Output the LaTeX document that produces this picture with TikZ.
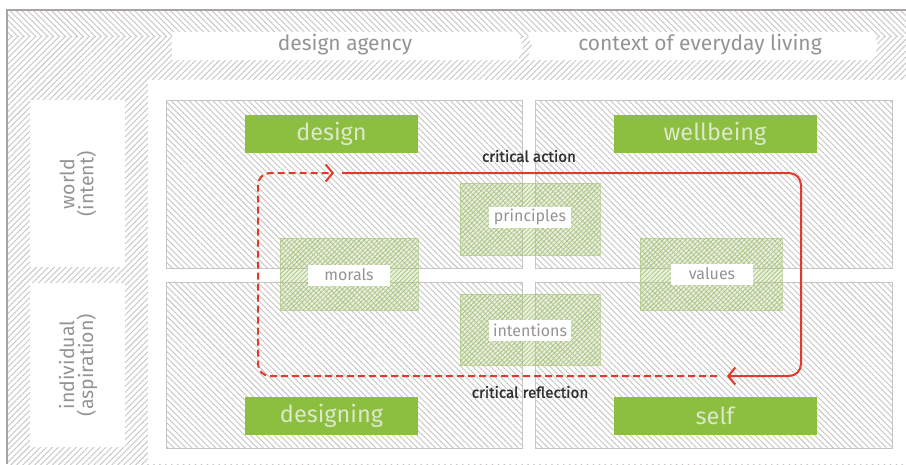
\documentclass[tikz,border=0pt]{standalone}
\usepackage{fontspec}
\setmainfont{Fira Sans}
\usetikzlibrary{patterns.meta,arrows.meta}
\definecolor{hatch}{HTML}{C8C4C4}
\definecolor{frameline}{HTML}{A8A4A4}
\definecolor{leaf}{HTML}{8CBE3F}
\definecolor{leaftext}{HTML}{DCE8CB}
\definecolor{mesh}{HTML}{A9C77A}
\definecolor{loopred}{HTML}{E2392B}
\definecolor{labelgray}{HTML}{979393}
\definecolor{darktext}{HTML}{303030}
\begin{document}
\begin{tikzpicture}[x=1pt,y=-1pt,
  hatchNE/.style={pattern={Lines[angle=45,distance=4.2pt,line width=0.9pt]},pattern color=hatch},
  hatchNW/.style={pattern={Lines[angle=-45,distance=4.2pt,line width=0.9pt]},pattern color=hatch},
  meshNE/.style={pattern={Lines[angle=45,distance=3.2pt,line width=0.8pt]},pattern color=mesh},
  quad/.style={hatchNW,draw=hatch,line width=0.8pt},
  greenbox/.style={fill=leaf,text=leaftext,minimum width=173pt,minimum height=38pt,inner sep=0pt,font=\fontsize{23.5}{26}\selectfont},
  tag/.style={fill=white,text=labelgray,inner sep=0pt,minimum width=82pt,minimum height=21pt,font=\fontsize{16}{18}\selectfont},
  headtext/.style={text=labelgray,font=\fontsize{21}{23}\selectfont},
  sidetext/.style={text=labelgray,rotate=90,align=center,font=\fontsize{19.5}{19}\selectfont},
  crit/.style={text=darktext,font=\fontsize{15.2}{17}\selectfont\addfontfeature{FakeBold=1.3}},
  loopline/.style={draw=loopred,line width=2pt,rounded corners=12pt},
  looptip/.style={-{Straight Barb[length=7pt,width=17pt,line width=2pt]}}
]
\useasboundingbox (0,0) rectangle (906,464);
\fill[white] (0,0) rectangle (906,464);
% outer hatched frame
\path[hatchNE] (7,10) rectangle (906,464);
\fill[white] (7,10) rectangle (906,36);
\path[hatchNW] (7,10) rectangle (906,36);
\draw[frameline,line width=1.5pt] (906,10) -- (7,10) -- (7,464);
% header bands
\fill[white] (172,32) -- (518,32) -- (523,46) -- (518,60) -- (172,60) -- cycle;
\fill[white] (527,32) -- (873,32) -- (878,46) -- (873,60) -- (527,60) -- (532,46) -- cycle;
\node[headtext] (hdA) at (345,45) {design agency};
\node[headtext] (hdB) at (700,45) {context of everyday living};
% side labels
\fill[white] (30,100) rectangle (125,267);
\fill[white] (30,283) rectangle (125,447);
\node[sidetext] (sideW) at (78,184) {world\\(intent)};
\node[sidetext] (sideI) at (78,365) {individual\\(aspiration)};
% main white area and quadrants
\fill[white] (148,80) rectangle (906,464);
\path[quad] (166,100) rectangle (522,268);
\path[quad] (535,100) rectangle (892,268);
\path[quad] (166,282) rectangle (522,448);
\path[quad] (535,282) rectangle (892,448);
% green meshes
\foreach \xa/\ya/\xb/\yb in {460/183/600/255, 280/238/418/310, 640/238/782/310, 460/294/600/365}{
  \fill[mesh,opacity=0.25] (\xa,\ya) rectangle (\xb,\yb);
  \path[meshNE] (\xa,\ya) rectangle (\xb,\yb);
  \draw[mesh,opacity=0.6,line width=0.6pt] (\xa,\ya) rectangle (\xb,\yb);
}
\node[tag] (princ) at (530,217) {principles};
\node[tag] (moral) at (349,275) {morals};
\node[tag] (value) at (712,274) {values};
\node[tag] (inten) at (530,330) {intentions};
% red loop
\coordinate (ta) at (334,173);
\coordinate (ts) at (342,173);
\coordinate (tr) at (801,173);
\coordinate (br) at (801,376);
\coordinate (ba) at (727,376);
\coordinate (bd) at (717,376);
\coordinate (bl) at (258,376);
\coordinate (tl) at (258,173);
\draw[loopline,looptip] (ts) -- (tr) -- (br) -- (ba);
\draw[loopline,looptip,dash pattern=on 7pt off 4pt] (bd) -- (bl) -- (tl) -- (ta);
\node[crit] (cact) at (529,156) {critical action};
\node[crit] (cref) at (530,392) {critical reflection};
% green boxes
\node[greenbox] (design) at (331.5,134) {design};
\node[greenbox,minimum width=203pt] (well) at (715,134) {wellbeing};
\node[greenbox] (desig) at (331.5,416) {designing};
\node[greenbox,minimum width=203pt] (self) at (715,416) {self};
\end{tikzpicture}
\end{document}
